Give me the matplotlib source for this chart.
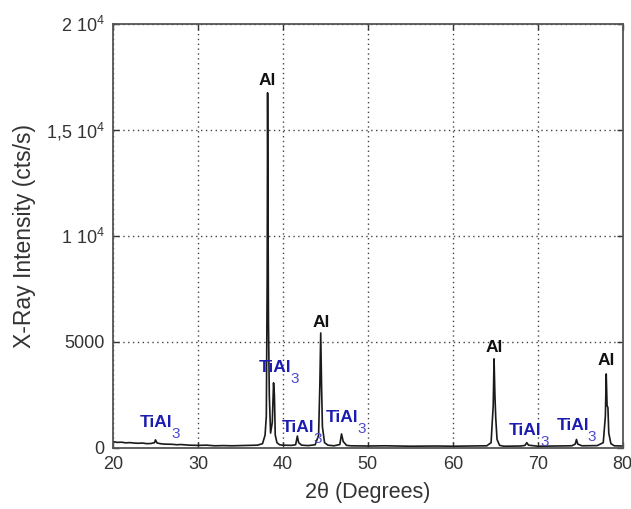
import matplotlib.pyplot as plt

plt.rcParams["font.family"] = ["Liberation Sans", "DejaVu Sans"]
plt.rcParams["mathtext.fontset"] = "custom"
plt.rcParams["mathtext.rm"] = "Liberation Sans"

# traced diffraction pattern (2theta in degrees, intensity in cts/s)
two_theta = [
    20.0, 20.5, 21.0, 21.5, 22.0, 22.5, 23.0, 23.5, 24.0, 24.5, 24.9, 25.0, 25.2,
    25.6, 26.0, 27.0, 27.5, 28.0, 29.0, 30.0, 31.0, 32.0, 33.0, 34.0, 35.0, 36.0,
    37.0, 37.6, 37.9, 38.05, 38.15, 38.2, 38.3, 38.4, 38.55, 38.75, 38.9, 39.0,
    39.1, 39.3, 39.6, 40.0, 41.0, 41.5, 41.7, 41.85, 42.2, 43.0, 43.8, 44.2,
    44.35, 44.45, 44.55, 44.65, 44.9, 45.3, 46.0, 46.7, 46.9, 47.1, 47.5, 48.0,
    50.0, 52.0, 55.0, 58.0, 60.0, 62.0, 64.0, 64.5, 64.75, 64.85, 64.95, 65.05,
    65.2, 65.5, 66.0, 68.0, 68.5, 68.7, 68.9, 70.0, 72.0, 74.0, 74.4, 74.55,
    74.7, 75.2, 77.0, 77.7, 77.95, 78.05, 78.15, 78.25, 78.35, 78.6, 79.0, 80.0,
]
intensity = [
    300, 260, 270, 240, 250, 230, 220, 230, 200, 210, 250, 380, 230,
    200, 180, 170, 150, 160, 130, 120, 130, 100, 110, 100, 110, 120,
    130, 200, 600, 1500, 8000, 16750, 6000, 2500, 700, 1200, 3070, 2500,
    600, 250, 150, 130, 120, 150, 560, 250, 130, 110, 150, 600,
    3000, 5420, 2950, 1000, 250, 130, 100, 160, 660, 300, 120, 100,
    90, 100, 80, 90, 80, 90, 100, 250, 2000, 4200, 2500, 1400,
    400, 120, 80, 90, 120, 250, 130, 80, 90, 100, 180, 400,
    180, 100, 110, 250, 1500, 3490, 2000, 1900, 700, 200, 100, 90,
]

# phase labels: Al centred over its peak, TiAl3 anchored at left/baseline
al_x = [38.2, 44.5, 64.9, 78.1]
al_y = [17000, 5560, 4400, 3780]
tial3_x = [23.2, 37.2, 39.9, 45.1, 66.6, 72.2]
tial3_y = [990, 3585, 755, 1230, 610, 850]

yticks = [0, 5000, 10000, 15000, 20000]
yticklabels = ["0", "5000", r"1 $10^{4}$", r"1,5 $10^{4}$", r"2 $10^{4}$"]
xticks = [20, 30, 40, 50, 60, 70, 80]

fig = plt.figure(figsize=(6.31, 5.09), dpi=100)
ax = fig.add_axes([0.179, 0.12, 0.808, 0.833])

ax.plot(two_theta, intensity, color="#1a1a1a", lw=1.2)

for x, y in zip(al_x, al_y):
    ax.text(x, y, "Al", ha="center", va="bottom", fontsize=12.5,
            fontweight="bold", color="#111111")

renderer = fig.canvas.get_renderer()
for x, y in zip(tial3_x, tial3_y):
    t = ax.text(x, y, "TiAl", ha="left", va="baseline", fontsize=12.5,
                fontweight="bold", color="#1c1cb0")
    w = t.get_window_extent(renderer).width * 72 / fig.dpi
    ax.annotate("3", xy=(x, y), xytext=(w - 1, 0), textcoords="offset points",
                ha="left", va="top", fontsize=11, color="#4a4ad0")

ax.set_xlim(20, 80)
ax.set_ylim(0, 20000)
ax.set_xticks(xticks)
ax.set_yticks(yticks)
ax.set_yticklabels(yticklabels)
ax.tick_params(direction="in", length=4, width=1, labelsize=13,
               colors="#333333", top=True, right=True, pad=6)
ax.grid(True, color="#444444", linestyle=(0, (1, 2.5)), linewidth=1)
for s in ax.spines.values():
    s.set_color("#555555")
    s.set_linewidth(1.3)

ax.set_xlabel("2θ (Degrees)", fontsize=15.5, color="#333333", labelpad=6)
ax.set_ylabel("X-Ray Intensity (cts/s)", fontsize=16.5, color="#333333", labelpad=7)

fig.savefig("out.png", dpi=100)
